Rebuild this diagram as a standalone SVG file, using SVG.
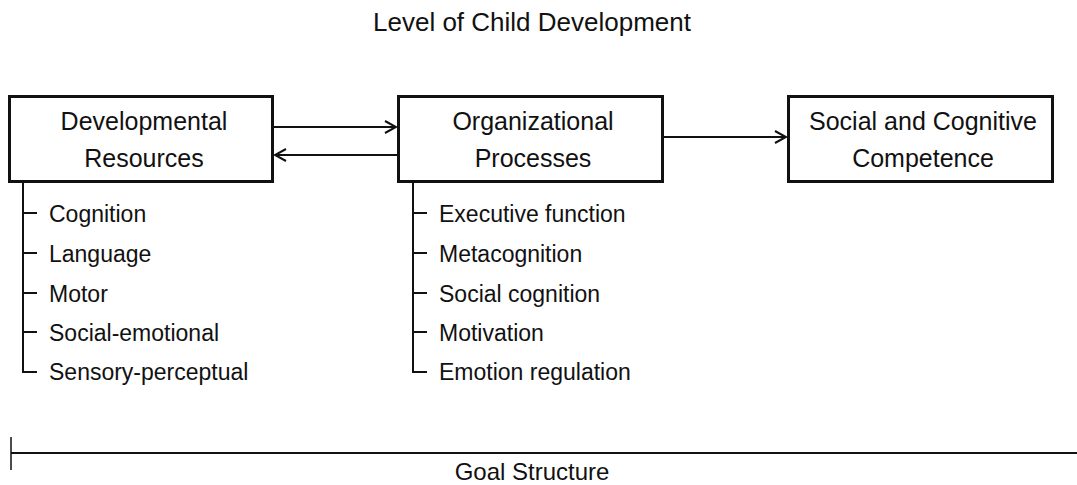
<svg xmlns="http://www.w3.org/2000/svg" width="1077" height="485" viewBox="0 0 1077 485">
<style>
text{font-family:"Liberation Sans",Arial,sans-serif;fill:#111}
.box{fill:#fff;stroke:#111;stroke-width:3}
.lbl{font-size:25px;text-anchor:middle}
.item{font-size:23px}
.ln{stroke:#111;stroke-width:2;fill:none}
</style>
<defs>
<marker id="ah" markerWidth="14" markerHeight="14" refX="12" refY="7" orient="auto" markerUnits="userSpaceOnUse">
<path d="M1,1 L12,7 L1,13" fill="none" stroke="#111" stroke-width="2"/>
</marker>
</defs>
<rect width="1077" height="485" fill="#fff"/>
<text x="532" y="31" font-size="26" text-anchor="middle">Level of Child Development</text>
<g id="connectors">
<line class="ln" x1="273" y1="127" x2="396" y2="127" marker-end="url(#ah)"/>
<line class="ln" x1="398" y1="155" x2="275" y2="155" marker-end="url(#ah)"/>
<line class="ln" x1="663" y1="137" x2="786" y2="137" marker-end="url(#ah)"/>
</g>
<g id="dev">
<rect class="box" x="9.5" y="96.5" width="263" height="85"/>
<text class="lbl" x="144" y="130">Developmental</text>
<text class="lbl" x="144" y="167">Resources</text>
</g>
<g id="org">
<rect class="box" x="398.5" y="96.5" width="264" height="85"/>
<text class="lbl" x="533" y="130">Organizational</text>
<text class="lbl" x="533" y="167">Processes</text>
</g>
<g id="comp">
<rect class="box" x="788.5" y="96.5" width="264" height="85"/>
<text class="lbl" x="923" y="130">Social and Cognitive</text>
<text class="lbl" x="923" y="167">Competence</text>
</g>
<g id="dev-list">
<path class="ln" d="M23,182 V372 H37 M23,213 H37 M23,253 H37 M23,293 H37 M23,332 H37"/>
<text class="item" x="49" y="222">Cognition</text>
<text class="item" x="49" y="262">Language</text>
<text class="item" x="49" y="302">Motor</text>
<text class="item" x="49" y="341">Social-emotional</text>
<text class="item" x="49" y="380">Sensory-perceptual</text>
</g>
<g id="org-list">
<path class="ln" d="M413,182 V372 H427 M413,213 H427 M413,253 H427 M413,293 H427 M413,332 H427"/>
<text class="item" x="439" y="222">Executive function</text>
<text class="item" x="439" y="262">Metacognition</text>
<text class="item" x="439" y="302">Social cognition</text>
<text class="item" x="439" y="341">Motivation</text>
<text class="item" x="439" y="380">Emotion regulation</text>
</g>
<g id="goal">
<line class="ln" x1="11" y1="453" x2="1077" y2="453"/>
<line x1="11" y1="437" x2="11" y2="470" stroke="#111" stroke-width="1.5"/>
<text x="532" y="480" font-size="24" text-anchor="middle">Goal Structure</text>
</g>
</svg>
